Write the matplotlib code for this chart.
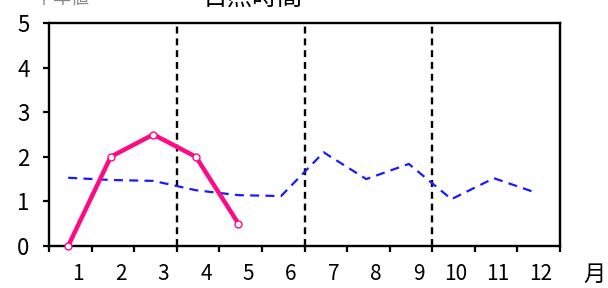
import matplotlib
matplotlib.use('Agg')
import matplotlib.pyplot as plt

plt.rcParams['font.family'] = ['Noto Sans CJK JP', 'DejaVu Sans']
plt.rcParams['lines.scale_dashes'] = False

# データ
months = [1, 2, 3, 4, 5, 6, 7, 8, 9, 10, 11, 12]
month_labels = [str(m) for m in months]
normal = [1.53, 1.48, 1.46, 1.25, 1.14, 1.12, 2.1, 1.5, 1.84, 1.05, 1.52, 1.19]
this_year = [0.0, 2.0, 2.5, 2.0, 0.5]
season_bounds = [3, 6, 9]

pos_off = 0.55   # 各月の点は月区間の少し左寄り
xn = [m - pos_off for m in months]
xt = [m - pos_off for m in months[:len(this_year)]]

fig = plt.figure(figsize=(6.08, 2.88), dpi=100)
ax = fig.add_axes([49/608, 42/288, 511/608, 223/288])

# 季節の区切り
for b in season_bounds:
    ax.axvline(b, color='black', lw=1.7, dashes=(5, 3.5))

ax.plot(xn, normal, color='#1a1aff', lw=1.6, dashes=(6.5, 4.5))
ax.plot(xt, this_year, color='#ff0a85', lw=3.2, marker='o', ms=5,
        mfc='white', mec='#ff0a85', mew=1.0, solid_joinstyle='round',
        clip_on=False, zorder=5)

ax.set_xlim(0, 12)
ax.set_ylim(0, 5)
ax.set_yticks(range(0, 6))
ax.set_xticks(range(0, 13))
ax.set_xticklabels([])
ax.set_xticks([m - 0.18 for m in months], minor=True)
ax.set_xticklabels(month_labels, minor=True, ha='right')
ax.tick_params(axis='x', which='minor', length=0, pad=12, labelsize=15)
ax.tick_params(axis='x', which='major', direction='out', length=4, width=1.6)
ax.tick_params(axis='y', direction='out', length=4, width=1.6, pad=10, labelsize=16)
for s in ax.spines.values():
    s.set_linewidth(1.7)

fig.text(594/608, 1 - 274/288, '月', fontsize=16, ha='center', va='center')

# 上端で切れているタイトル
fig.text(35/608, 1 - 4/288, '平年値  ━━', fontsize=13, ha='left', va='baseline', color='#888888')
fig.text(203/608, 1 - 5/288, '日照時間', fontsize=18, ha='left', va='baseline')

fig.savefig('out.png', dpi=100)
